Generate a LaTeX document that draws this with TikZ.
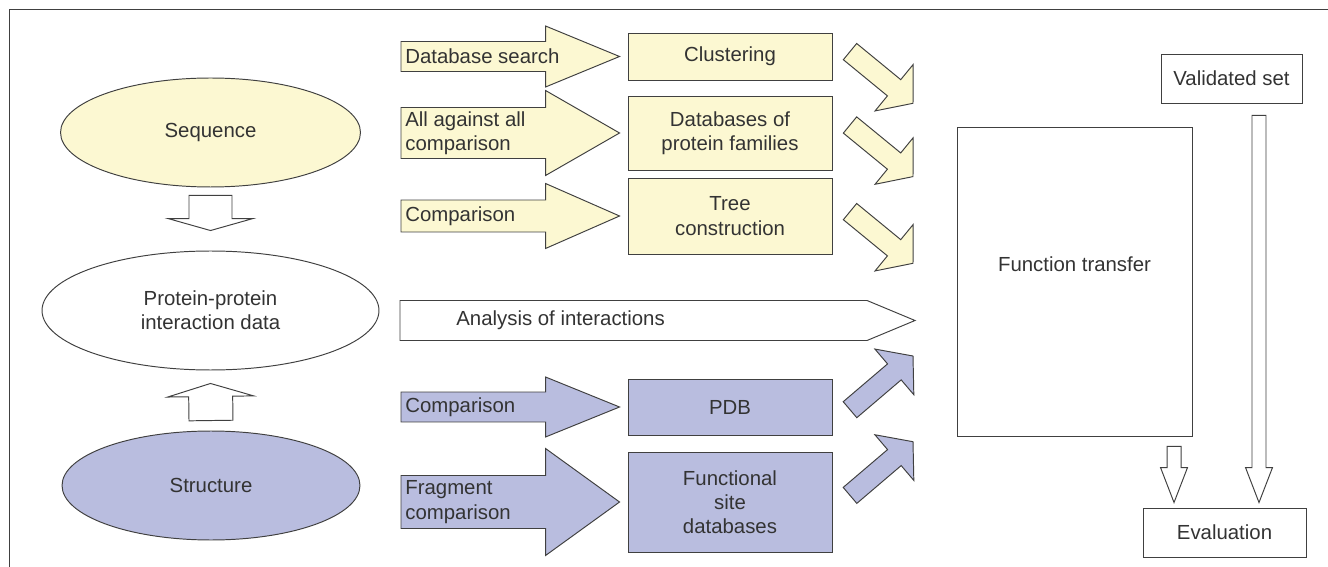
\documentclass[tikz,border=0pt]{standalone}
\usepackage{fontspec}
\setmainfont{Liberation Sans}
\usetikzlibrary{
  shapes.geometric,
  calc
}

\definecolor{seqyellow}{RGB}{252,248,210}
\definecolor{strblue}{RGB}{185,189,223}
\definecolor{linegray}{RGB}{64,64,64}
\definecolor{txtgray}{RGB}{51,51,51}

% block arrow: [style]{from}{to}{shaft half width}{head half width}{head length}
\newcommand{\fatarrow}[6][]{%
  \coordinate (fa-h) at ($(#3)!#6!(#2)$);
  \draw[#1] ($(#2)!#4!90:(#3)$) -- ($(fa-h)!#4!90:(#3)$)
    -- ($(fa-h)!#5!90:(#3)$) -- (#3) -- ($(fa-h)!#5!-90:(#3)$)
    -- ($(fa-h)!#4!-90:(#3)$) -- ($(#2)!#4!-90:(#3)$) -- cycle;
}

\begin{document}
\begin{tikzpicture}[x=0.02cm,y=-0.02cm]
  \tikzset{
    blockline/.style = {draw=linegray, line width=0.55pt, line join=miter},
    box/.style = {blockline, rectangle, inner sep=2pt, align=center,
      minimum width=4.08cm},
    blob/.style = {blockline, ellipse, inner sep=0pt, align=center},
    lbltext/.style = {anchor=west, align=left, inner xsep=0.08cm,
      inner ysep=0pt},
    every node/.style = {text=txtgray,
      font=\fontsize{11.6}{13.8}\selectfont},
  }
  \useasboundingbox (0,0) rectangle (1328,567);

  % frame, only top and left edges show
  \draw[linegray, line width=0.55pt] (1328,9.5) -- (9.5,9.5) -- (9.5,567);

  % data sources
  \node[blob, fill=seqyellow, minimum width=6cm, minimum height=2.18cm]
    (seq) at (210.5,132.5) {Sequence};
  \node[blob, fill=white, minimum width=6.74cm, minimum height=2.38cm]
    (ppi) at (210.5,310.5) {Protein-protein\\interaction data};
  \node[blob, fill=strblue, minimum width=5.96cm, minimum height=2.18cm]
    (struct) at (211,485.5) {Structure};

  \coordinate (seq-out) at ([yshift=-0.16cm]seq.south);
  \coordinate (ppi-top) at ([yshift=0.4cm]ppi.north);
  \coordinate (struct-out) at ([yshift=0.2cm]struct.north);
  \coordinate (ppi-bot) at ([yshift=-0.26cm]ppi.south);
  \fatarrow[blockline, fill=white]{seq-out}{ppi-top}{0.43cm}{0.85cm}{0.24cm}
  \fatarrow[blockline, fill=white]{struct-out}{ppi-bot}{0.44cm}{0.86cm}{0.26cm}

  % method boxes
  \node[box, fill=seqyellow, minimum height=0.94cm]
    (clust) at (730,56.5) {Clustering};
  \node[box, fill=seqyellow, minimum height=1.48cm]
    (dbfam) at (730,133) {Databases of\\protein families};
  \node[box, fill=seqyellow, minimum height=1.52cm]
    (tree) at (730,216) {Tree\\construction};
  \node[box, fill=strblue, minimum height=1.12cm]
    (pdb) at (730,407) {PDB};
  \node[box, fill=strblue, minimum height=2cm]
    (fsite) at (730,502) {Functional\\site\\databases};

  % label arrows pointing into the boxes
  \coordinate (lblx) at (401,0);
  \foreach \bx/\sh/\hd/\col/\txt in {
    clust/0.30cm/0.61cm/seqyellow/{Database search},
    dbfam/0.51cm/0.85cm/seqyellow/{All against all\\comparison},
    tree/0.32cm/0.65cm/seqyellow/{Comparison},
    pdb/0.30cm/0.60cm/strblue/{Comparison},
    fsite/0.53cm/1.07cm/strblue/{Fragment\\comparison}}
  {
    \coordinate (\bx-in) at ([xshift=-0.16cm]\bx.west);
    \coordinate (\bx-src) at (lblx |- \bx-in);
    \fatarrow[blockline, fill=\col]{\bx-src}{\bx-in}{\sh}{\hd}{1.48cm}
    \node[lbltext] (\bx-lbl) at (\bx-src) {\txt};
  }

  % interactions go straight across
  \coordinate (ana-src) at (400,320.5);
  \coordinate (ana-tip) at (915,320.5);
  \fatarrow[blockline, fill=white]{ana-src}{ana-tip}{0.4cm}{0.4cm}{0.96cm}
  \node[lbltext] (ana-lbl) at ([xshift=1.04cm]ana-src) {Analysis of interactions};

  % short slanted arrows towards function transfer
  \foreach \nm/\ty/\hy/\col in {y1/51.6/103.3/seqyellow, y2/125/176.6/seqyellow,
    y3/211.6/263.3/seqyellow, b1/409.7/356/strblue, b2/495.4/441.7/strblue}
  {
    \coordinate (\nm-t) at (850,\ty);
    \coordinate (\nm-h) at (913,\hy);
    \fatarrow[blockline, fill=\col]{\nm-t}{\nm-h}{0.21cm}{0.6cm}{0.49cm}
  }

  % right column
  \node[box, minimum width=4.7cm, minimum height=6.2cm]
    (ftrans) at (1074.5,282) {};
  \node (ftrans-lbl) at ([yshift=0.36cm]ftrans.center) {Function transfer};
  \node[box, minimum width=2.82cm, minimum height=0.98cm]
    (vset) at (1231.5,78.5) {Validated set};
  \node[box, minimum width=3.26cm, minimum height=0.98cm]
    (eval) at (1224.5,532.5) {Evaluation};

  \coordinate (ev-in1) at ([xshift=-1.01cm,yshift=0.1cm]eval.north);
  \coordinate (ev-in2) at ([xshift=0.69cm,yshift=0.1cm]eval.north);
  \coordinate (ft-out) at ($(ftrans.south -| ev-in1)+(0,9)$);
  \coordinate (vs-out) at ($(vset.south -| ev-in2)+(0,12)$);
  \fatarrow[blockline, fill=white]{ft-out}{ev-in1}{0.14cm}{0.27cm}{0.7cm}
  \fatarrow[blockline, fill=white]{vs-out}{ev-in2}{0.14cm}{0.27cm}{0.7cm}
\end{tikzpicture}
\end{document}
